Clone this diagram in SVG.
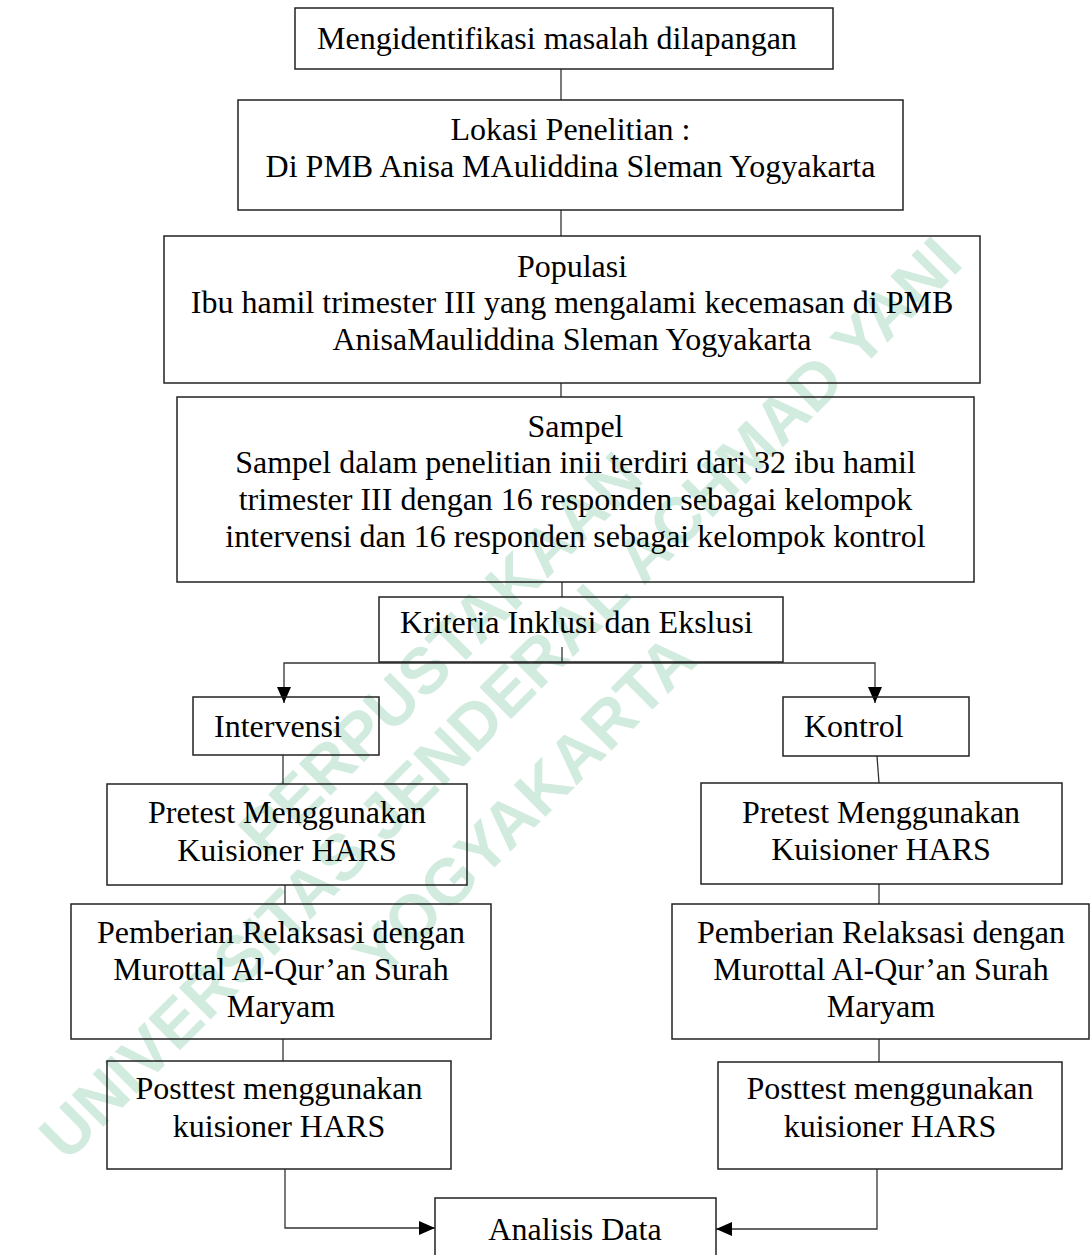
<svg xmlns="http://www.w3.org/2000/svg" width="1091" height="1255" viewBox="0 0 1091 1255">
<style>
.wm{font-family:"Liberation Sans",Arial,sans-serif;font-weight:bold;font-size:65px;fill:#d1ebde;text-anchor:middle}
.box{fill:none;stroke:#222;stroke-width:1.5}
.t{font-family:"Liberation Serif","Times New Roman",serif;font-size:32px;fill:#000}
.c{text-anchor:middle}
.ln{fill:none;stroke:#333;stroke-width:1.3}
</style>
<defs>
<marker id="ah" markerUnits="userSpaceOnUse" markerWidth="16" markerHeight="14" refX="16" refY="7" orient="auto">
<path d="M0,0 L16,7 L0,14 z" fill="#000"/>
</marker>
</defs>
<rect width="1091" height="1255" fill="#fff"/>
<g id="watermark">
<text class="wm" transform="translate(456,670) rotate(-45)">PERPUSTAKAAN</text>
<text class="wm" transform="translate(516,714) rotate(-45)">UNIVERSITAS JENDERAL ACHMAD YANI</text>
<text class="wm" transform="translate(540,822) rotate(-45)">YOGYAKARTA</text>
</g>
<g id="connectors">
<line class="ln" x1="561" y1="69" x2="561" y2="100"/>
<line class="ln" x1="561" y1="210" x2="561" y2="236"/>
<line class="ln" x1="561" y1="383" x2="561" y2="397"/>
<line class="ln" x1="562" y1="582" x2="562" y2="597"/>
<line class="ln" x1="562" y1="647" x2="562" y2="663"/>
<path class="ln" d="M562,663 H284 V703" marker-end="url(#ah)"/>
<path class="ln" d="M562,663 H875 V703" marker-end="url(#ah)"/>
<line class="ln" x1="283" y1="755" x2="283" y2="784"/>
<line class="ln" x1="285" y1="885" x2="285" y2="904"/>
<line class="ln" x1="283" y1="1039" x2="283" y2="1061"/>
<path class="ln" d="M285,1169 V1228 H435" marker-end="url(#ah)"/>
<line class="ln" x1="877" y1="756" x2="879" y2="783"/>
<line class="ln" x1="879" y1="884" x2="879" y2="904"/>
<line class="ln" x1="879" y1="1039" x2="879" y2="1062"/>
<path class="ln" d="M877,1169 V1229 H716" marker-end="url(#ah)"/>
</g>
<g id="n1"><rect class="box" x="295" y="8" width="538" height="61"/><text class="t" x="317" y="49">Mengidentifikasi masalah dilapangan</text></g>
<g id="n2"><rect class="box" x="238" y="100" width="665" height="110"/>
<text class="t c" x="570.5" y="140">Lokasi Penelitian :</text>
<text class="t c" x="570.5" y="177">Di PMB Anisa MAuliddina Sleman Yogyakarta</text></g>
<g id="n3"><rect class="box" x="164" y="236" width="816" height="147"/>
<text class="t c" x="572" y="277">Populasi</text>
<text class="t c" x="572" y="313">Ibu hamil trimester III yang mengalami kecemasan di PMB</text>
<text class="t c" x="572" y="350">AnisaMauliddina Sleman Yogyakarta</text></g>
<g id="n4"><rect class="box" x="177" y="397" width="797" height="185"/>
<text class="t c" x="575.5" y="437">Sampel</text>
<text class="t c" x="575.5" y="473">Sampel dalam penelitian inii terdiri dari 32 ibu hamil</text>
<text class="t c" x="575.5" y="510">trimester III dengan 16 responden sebagai kelompok</text>
<text class="t c" x="575.5" y="547">intervensi dan 16 responden sebagai kelompok kontrol</text></g>
<g id="n5"><rect class="box" x="379" y="597" width="404" height="65"/><text class="t" x="400" y="633">Kriteria Inklusi dan Ekslusi</text></g>
<g id="n6"><rect class="box" x="193" y="697" width="186" height="58"/><text class="t" x="214" y="737">Intervensi</text></g>
<g id="n7"><rect class="box" x="783" y="697" width="186" height="59"/><text class="t" x="804" y="737">Kontrol</text></g>
<g id="n8"><rect class="box" x="107" y="784" width="360" height="101"/>
<text class="t c" x="287" y="823">Pretest Menggunakan</text>
<text class="t c" x="287" y="861">Kuisioner HARS</text></g>
<g id="n9"><rect class="box" x="71" y="904" width="420" height="135"/>
<text class="t c" x="281" y="943">Pemberian Relaksasi dengan</text>
<text class="t c" x="281" y="980">Murottal Al-Qur’an Surah</text>
<text class="t c" x="281" y="1017">Maryam</text></g>
<g id="n10"><rect class="box" x="107" y="1061" width="344" height="108"/>
<text class="t c" x="279" y="1099">Posttest menggunakan</text>
<text class="t c" x="279" y="1137">kuisioner HARS</text></g>
<g id="n11"><rect class="box" x="701" y="783" width="361" height="101"/>
<text class="t c" x="881" y="823">Pretest Menggunakan</text>
<text class="t c" x="881" y="860">Kuisioner HARS</text></g>
<g id="n12"><rect class="box" x="672" y="904" width="417" height="135"/>
<text class="t c" x="881" y="943">Pemberian Relaksasi dengan</text>
<text class="t c" x="881" y="980">Murottal Al-Qur’an Surah</text>
<text class="t c" x="881" y="1017">Maryam</text></g>
<g id="n13"><rect class="box" x="718" y="1062" width="344" height="107"/>
<text class="t c" x="890" y="1099">Posttest menggunakan</text>
<text class="t c" x="890" y="1137">kuisioner HARS</text></g>
<g id="n14"><rect class="box" x="435" y="1198" width="281" height="70"/>
<text class="t c" x="575" y="1240">Analisis Data</text></g>
</svg>
